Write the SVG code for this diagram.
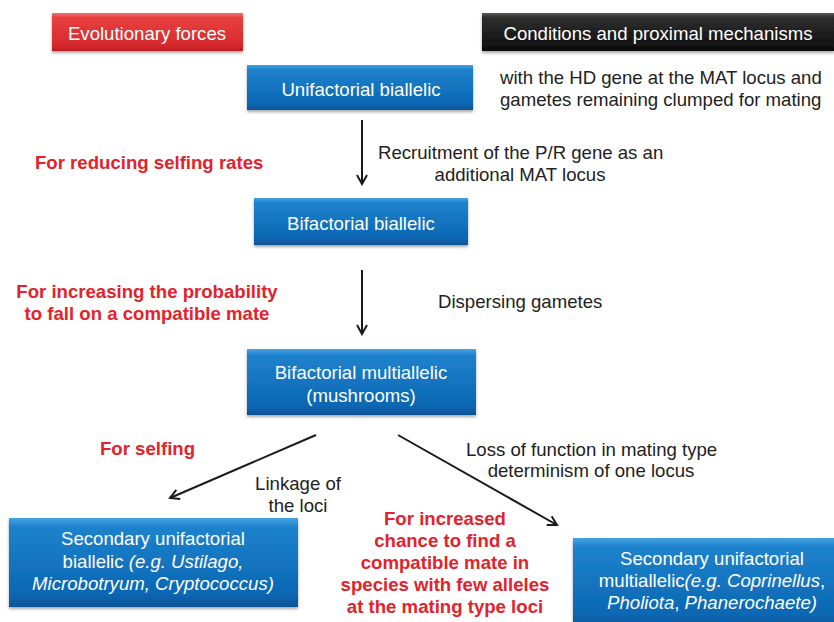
<svg xmlns="http://www.w3.org/2000/svg" width="834" height="622" viewBox="0 0 834 622">
<defs>
<linearGradient id="gBlue" x1="0" y1="0" x2="0" y2="1">
<stop offset="0" stop-color="#45a3e4"/>
<stop offset="0.1" stop-color="#1e82cd"/>
<stop offset="0.85" stop-color="#0b67b3"/>
<stop offset="1" stop-color="#095496"/>
</linearGradient>
<linearGradient id="gRed" x1="0" y1="0" x2="0" y2="1">
<stop offset="0" stop-color="#f27070"/>
<stop offset="0.12" stop-color="#e84040"/>
<stop offset="0.85" stop-color="#d62a2c"/>
<stop offset="1" stop-color="#b81e20"/>
</linearGradient>
<linearGradient id="gBlack" x1="0" y1="0" x2="0" y2="1">
<stop offset="0" stop-color="#5a5a5a"/>
<stop offset="0.12" stop-color="#2e2e2e"/>
<stop offset="1" stop-color="#0d0d0d"/>
</linearGradient>
<filter id="sh" x="-10%" y="-10%" width="120%" height="130%">
<feDropShadow dx="0" dy="2" stdDeviation="1.5" flood-color="#000" flood-opacity="0.35"/>
</filter>
<marker id="ah" viewBox="0 0 12 12" refX="10" refY="6" markerWidth="12" markerHeight="12" markerUnits="userSpaceOnUse" orient="auto">
<path d="M1,1 L10,6 L1,11" fill="none" stroke="#1a1a1a" stroke-width="2"/>
</marker>
</defs>
<style>
.t{font-family:"Liberation Sans",Arial,sans-serif;font-size:18.6px;fill:#222}
.w{font-family:"Liberation Sans",Arial,sans-serif;font-size:18.6px;fill:#fff}
.r{font-family:"Liberation Sans",Arial,sans-serif;font-size:18.6px;font-weight:bold;fill:#e3222b}
.c{text-anchor:middle}
.i{font-style:italic}
.blue{fill:url(#gBlue);filter:url(#sh)}
.edge{fill:none;stroke:#1a1a1a;stroke-width:2;marker-end:url(#ah)}
</style>

<g id="header-evolutionary">
<rect x="52" y="13" width="191" height="38" fill="url(#gRed)" filter="url(#sh)"/>
<text class="w c" x="147" y="40">Evolutionary forces</text>
</g>
<g id="header-conditions">
<rect x="482" y="13" width="352" height="38" fill="url(#gBlack)" filter="url(#sh)"/>
<text class="w c" x="658" y="40">Conditions and proximal mechanisms</text>
</g>

<g id="node-unifactorial">
<rect class="blue" x="247" y="65" width="226" height="45"/>
<text class="w c" x="361" y="96">Unifactorial biallelic</text>
</g>
<g id="node-bifactorial-biallelic">
<rect class="blue" x="254" y="198" width="214" height="47"/>
<text class="w c" x="361" y="230">Bifactorial biallelic</text>
</g>
<g id="node-bifactorial-multiallelic">
<rect class="blue" x="247" y="349" width="229" height="66"/>
<text class="w c" x="361" y="379">Bifactorial multiallelic</text>
<text class="w c" x="361" y="402">(mushrooms)</text>
</g>
<g id="node-secondary-biallelic">
<rect class="blue" x="9" y="518" width="289" height="89"/>
<text class="w c" x="153" y="545">Secondary unifactorial</text>
<text class="w c" x="153" y="568">biallelic <tspan class="i">(e.g. Ustilago,</tspan></text>
<text class="w c i" x="153" y="590">Microbotryum, Cryptococcus)</text>
</g>
<g id="node-secondary-multiallelic">
<rect class="blue" x="573" y="538" width="268" height="90"/>
<text class="w c" x="712" y="565">Secondary unifactorial</text>
<text class="w c" x="712" y="587">multiallelic<tspan class="i">(e.g. Coprinellus</tspan>,</text>
<text class="w c" x="712" y="609"><tspan class="i">Pholiota</tspan>, <tspan class="i">Phanerochaete)</tspan></text>
</g>

<g id="connectors">
<line class="edge" x1="362" y1="120" x2="362" y2="184"/>
<line class="edge" x1="362" y1="270" x2="362" y2="334"/>
<line class="edge" x1="316" y1="435" x2="170" y2="498"/>
<line class="edge" x1="398" y1="435" x2="557" y2="525"/>
</g>

<g id="labels">
<text class="t" x="500" y="84">with the HD gene at the MAT locus and</text>
<text class="t" x="500" y="106">gametes remaining clumped for mating</text>
<text class="t" x="378" y="159">Recruitment of the P/R gene as an</text>
<text class="t c" x="520" y="181">additional MAT locus</text>
<text class="t" x="438" y="308">Dispersing gametes</text>
<text class="t" x="466" y="456">Loss of function in mating type</text>
<text class="t c" x="591" y="477">determinism of one locus</text>
<text class="t c" x="298" y="490">Linkage of</text>
<text class="t c" x="298" y="512">the loci</text>

<text class="r" x="35" y="169">For reducing selfing rates</text>
<text class="r c" x="147" y="298">For increasing the probability</text>
<text class="r c" x="147" y="320">to fall on a compatible mate</text>
<text class="r" x="100" y="455">For selfing</text>
<text class="r c" x="445" y="525">For increased</text>
<text class="r c" x="445" y="547">chance to find a</text>
<text class="r c" x="445" y="569">compatible mate in</text>
<text class="r c" x="445" y="591">species with few alleles</text>
<text class="r c" x="445" y="613">at the mating type loci</text>
</g>
</svg>
